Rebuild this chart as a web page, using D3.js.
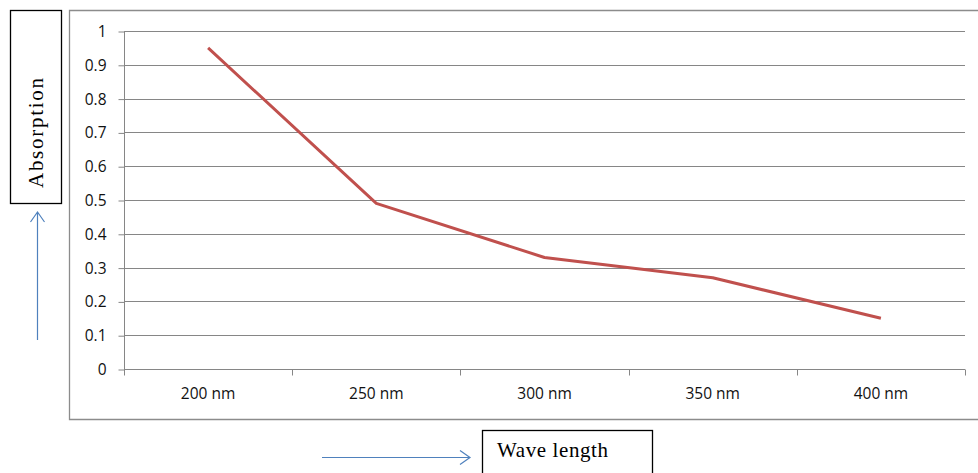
<!DOCTYPE html>
<html><head><meta charset="utf-8">
<script src="https://cdn.jsdelivr.net/npm/d3@7"></script>
<style>body{margin:0;background:#fff;}svg{display:block;}</style>
</head><body>
<script>
const categories = ["200 nm","250 nm","300 nm","350 nm","400 nm"];
const absorption = [0.95,0.49,0.33,0.27,0.15];
const yTicks = [0,0.1,0.2,0.3,0.4,0.5,0.6,0.7,0.8,0.9,1];
const yTickLabels = ["0","0.1","0.2","0.3","0.4","0.5","0.6","0.7","0.8","0.9","1"];

const W=978,H=473;
const svg=d3.select("body").append("svg").attr("width",W).attr("height",H);
const m={left:124,right:965,top:31,bottom:369};
const x=d3.scaleBand().domain(categories).range([m.left,m.right]);
const y=d3.scaleLinear().domain([0,1]).range([m.bottom,m.top]);
const grey="#868686";
const tickFont="'Open Sans','Liberation Sans',sans-serif";

// outer chart border
svg.append("path").attr("d",`M${W+2},10.5H69.5V419.5H${W+2}`).attr("fill","none").attr("stroke","#8c8c8c").attr("stroke-width",1.3);

// gridlines
svg.append("g").selectAll("line").data(yTicks.filter(d=>d>0)).join("line")
 .attr("x1",m.left).attr("x2",m.right).attr("y1",d=>Math.round(y(d))+0.5).attr("y2",d=>Math.round(y(d))+0.5)
 .attr("stroke",grey).attr("stroke-width",1);

// y axis
const ya=svg.append("g").attr("transform",`translate(${m.left+0.5},0.5)`)
 .call(d3.axisLeft(y).tickValues(yTicks).tickFormat((d,i)=>yTickLabels[i]).tickSize(6).tickPadding(12));
ya.select(".domain").attr("stroke",grey).attr("d",`M-0,${m.top}V${m.bottom}`);
ya.selectAll(".tick line").attr("stroke",grey);
ya.selectAll("text").attr("font-family",tickFont).attr("font-size",15.5).attr("fill","#111");

// x axis
const xa=svg.append("g").attr("transform",`translate(0,${m.bottom+0.5})`)
 .call(d3.axisBottom(x).tickSize(0).tickPadding(18));
xa.select(".domain").attr("stroke",grey).attr("d",`M${m.left},0H${m.right}`);
xa.selectAll("text").attr("font-family",tickFont).attr("font-size",15.5).attr("fill","#111");
const bounds=categories.map(c=>x(c)).concat([x(categories[categories.length-1])+x.bandwidth()]);
xa.append("g").selectAll("line").data(bounds).join("line")
 .attr("x1",d=>Math.round(d)+0.5).attr("x2",d=>Math.round(d)+0.5).attr("y1",0).attr("y2",6).attr("stroke",grey);

// line
const line=d3.line().x((d,i)=>x(categories[i])+x.bandwidth()/2).y(d=>y(d));
svg.append("path").datum(absorption).attr("d",line).attr("fill","none")
 .attr("stroke","#c0504d").attr("stroke-width",3).attr("stroke-linejoin","round");

// y label box
svg.append("rect").attr("x",10.5).attr("y",10.5).attr("width",51).attr("height",193).attr("fill","#fff").attr("stroke","#000").attr("stroke-width",1.3);
svg.append("text").attr("transform","translate(43,133) rotate(-90)").attr("text-anchor","middle")
 .attr("font-family","'Liberation Serif','Times New Roman',serif").attr("font-size",21)
 .attr("textLength",110).attr("lengthAdjust","spacing").text("Absorption");
// x label box
svg.append("rect").attr("x",482.5).attr("y",430.5).attr("width",170).attr("height",60).attr("fill","#fff").attr("stroke","#000").attr("stroke-width",1.3);
svg.append("text").attr("x",497).attr("y",457).attr("font-family","'Liberation Serif','Times New Roman',serif").attr("font-size",21)
 .attr("textLength",111).attr("lengthAdjust","spacing").text("Wave length");

// arrows
const ac="#4f81bd";
svg.append("path").attr("d","M37.5,340V212M30.5,222L37.5,212L44.5,222").attr("fill","none").attr("stroke",ac).attr("stroke-width",1.2);
svg.append("path").attr("d","M322,457.5H470M460,450.5L470,457.5L460,464.5").attr("fill","none").attr("stroke",ac).attr("stroke-width",1.2);
</script>
</body></html>
